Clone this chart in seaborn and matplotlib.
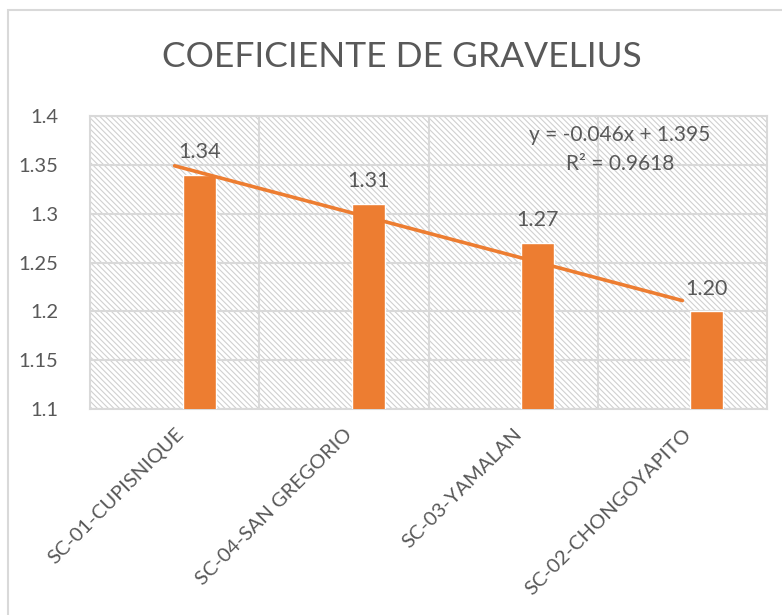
import matplotlib
matplotlib.use("Agg")
import matplotlib.pyplot as plt
import seaborn as sns
import pandas as pd
import numpy as np
from matplotlib.patches import Rectangle

# data
cuencas = ["SC-01-CUPISNIQUE", "SC-04-SAN GREGORIO", "SC-03-YAMALAN", "SC-02-CHONGOYAPITO"]
coef_gravelius = [1.34, 1.31, 1.27, 1.20]
y_ticks = [1.1, 1.15, 1.2, 1.25, 1.3, 1.35, 1.4]
y_tick_labels = ["1.1", "1.15", "1.2", "1.25", "1.3", "1.35", "1.4"]

ORANGE = "#ED7D31"
GREY_TXT = "#595959"
GRID = "#d9d9d9"

sns.set_style("white")
plt.rcParams["font.family"] = ["Lato", "DejaVu Sans"]
plt.rcParams["hatch.color"] = "#d0d0d0"
plt.rcParams["hatch.linewidth"] = 0.8

df = pd.DataFrame({"cuenca": cuencas, "coef": coef_gravelius})
df["pos"] = np.arange(len(df))
# excel draws the single series shifted to the right of the category centre
df["bar_pos"] = df["pos"] + 0.145

# linear trend (excel numbering 1..n)
xn = np.arange(1, len(df) + 1)
slope, intercept = np.polyfit(xn, df["coef"], 1)
df["trend"] = slope * xn + intercept
r2 = np.corrcoef(xn, df["coef"])[0, 1] ** 2

fig = plt.figure(figsize=(7.82, 6.15), dpi=100)
ax = fig.add_axes([90 / 782, 1 - 409 / 615, (767 - 90) / 782, (409 - 116) / 615])

# hatched plot-area background
ax.patch.set_facecolor("white")
bg = Rectangle((0, 0), 1, 1, transform=ax.transAxes, facecolor="white",
               edgecolor="#d0d0d0", hatch="\\\\\\\\\\\\", linewidth=0, zorder=0)
ax.add_patch(bg)

sns.barplot(data=df, x="bar_pos", y="coef", native_scale=True, width=0.195,
            color=ORANGE, saturation=1, ax=ax, zorder=3)
sns.lineplot(data=df, x="pos", y="trend", color=ORANGE, linewidth=2.6, ax=ax, zorder=4)

for p, v in zip(df["bar_pos"], df["coef"]):
    ax.text(p, v + 0.013, f"{v:.2f}", ha="center", va="bottom", fontsize=15.5, color=GREY_TXT, zorder=5)

ax.set_xlim(-0.5, len(df) - 0.5)
ax.set_ylim(1.1, 1.4)
ax.set_yticks(y_ticks)
ax.set_yticklabels(y_tick_labels)
ax.set_xticks(df["pos"])
ax.set_xticklabels(cuencas, rotation=45, ha="right", rotation_mode="anchor")
ax.set_xticks(np.arange(0.5, len(df) - 0.5, 1), minor=True)
ax.tick_params(axis="y", labelsize=14.5, labelcolor=GREY_TXT, length=0, pad=23)
ax.tick_params(axis="x", which="both", labelsize=14.5, labelcolor=GREY_TXT, length=0, pad=12)
ax.grid(True, axis="y", color=GRID, linewidth=1.5, zorder=1)
ax.grid(True, axis="x", which="minor", color=GRID, linewidth=1.5, zorder=1)
ax.set_axisbelow(True)
for s in ax.spines.values():
    s.set_color(GRID)
    s.set_linewidth(1.5)
ax.set_xlabel("")
ax.set_ylabel("")

ax.text(0.783, 0.935, f"y = {slope:.3f}x + {intercept:.3f}", transform=ax.transAxes,
        ha="center", va="center", fontsize=15, color=GREY_TXT, zorder=5)
ax.text(0.783, 0.835, f"R² = {r2:.4f}", transform=ax.transAxes,
        ha="center", va="center", fontsize=15, color=GREY_TXT, zorder=5)

fig.text(402 / 782, 1 - 57 / 615, "COEFICIENTE DE GRAVELIUS", ha="center", va="center",
         fontsize=25.5, color=GREY_TXT)

# chart border
fig.patches.append(Rectangle((8 / 782, -0.02), 1.0, 1 - 10 / 615 + 0.02, transform=fig.transFigure,
                             fill=False, edgecolor=GRID, linewidth=1.5))

fig.savefig("out.png", dpi=100)
